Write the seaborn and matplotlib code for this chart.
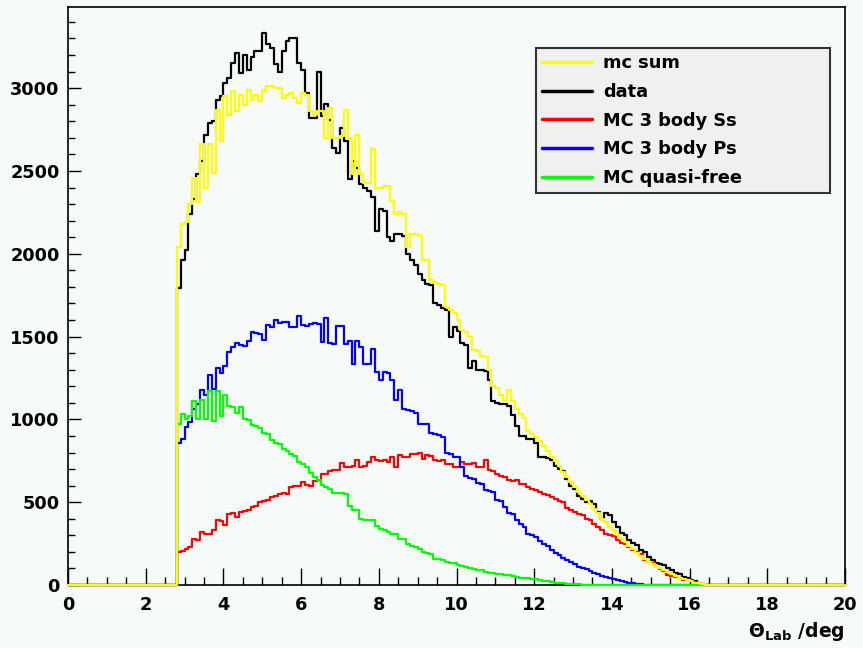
import numpy as np
import pandas as pd
import matplotlib
matplotlib.use('Agg')
import matplotlib.pyplot as plt
from matplotlib.lines import Line2D
from matplotlib.ticker import MultipleLocator
import seaborn as sns

# Theta_Lab histograms, 0.1 deg bins, first filled bin starts at 2.8 deg
bin_width = 0.1
first_bin = 2.8

mc_sum = [2040, 2180, 2190, 2300, 2460, 2310, 2660, 2400, 2660, 2490, 2870, 2680, 2950, 2840, 2980, 2860, 2960, 2900, 2990, 2930,
          2960, 2920, 2990, 3010, 3010, 3000, 3000, 2940, 2960, 2970, 2940, 2910, 2970, 2960, 2860, 2840, 2860, 2860, 2700, 2880,
          2700, 2700, 2710, 2870, 2700, 2480, 2720, 2480, 2430, 2430, 2630, 2400, 2400, 2410, 2410, 2320, 2240, 2250, 2240, 2040,
          2120, 2120, 2110, 1960, 1960, 1840, 1830, 1820, 1810, 1680, 1660, 1640, 1600, 1540, 1530, 1500, 1420, 1410, 1380, 1375,
          1300, 1200, 1190, 1150, 1120, 1175, 1110, 1060, 1030, 1010, 930, 910, 895, 870, 840, 810, 775, 750, 720, 680,
          650, 620, 590, 560, 540, 515, 490, 460, 435, 400, 380, 350, 330, 300, 280, 260, 235, 215, 195, 175,
          155, 140, 125, 110, 100, 90, 80, 65, 55, 45, 35, 30, 22, 15, 10, 5]

data = [1795, 1960, 2020, 2240, 2330, 2480, 2560, 2720, 2790, 2800, 2930, 2950, 3030, 3060, 3150, 3210, 3090, 3200, 3110, 3190,
        3225, 3225, 3330, 3265, 3240, 3145, 3100, 3225, 3285, 3300, 3300, 3150, 3110, 2970, 2820, 2820, 3100, 2830, 2905, 2810,
        2640, 2610, 2760, 2680, 2450, 2560, 2520, 2420, 2400, 2380, 2340, 2140, 2270, 2260, 2100, 2080, 2120, 2120, 2110, 2000,
        1960, 1930, 1880, 1840, 1820, 1810, 1700, 1690, 1670, 1660, 1500, 1556, 1536, 1460, 1450, 1313, 1350, 1300, 1300, 1290,
        1235, 1114, 1100, 1095, 1095, 1080, 1024, 960, 900, 898, 880, 880, 860, 775, 771, 765, 755, 720, 700, 690,
        640, 600, 580, 540, 520, 500, 510, 490, 440, 400, 432, 420, 380, 350, 311, 300, 271, 251, 240, 210,
        200, 170, 150, 130, 125, 120, 100, 90, 70, 65, 50, 45, 30, 25, 10, 5]

mc_ss = [200, 205, 220, 230, 280, 270, 320, 310, 310, 330, 390, 385, 362, 430, 435, 412, 440, 445, 452, 470,
         475, 500, 505, 512, 530, 535, 552, 555, 550, 592, 600, 598, 622, 602, 600, 630, 635, 672, 672, 690,
         692, 695, 735, 712, 710, 720, 752, 712, 720, 740, 773, 752, 750, 755, 742, 773, 712, 783, 773, 770,
         793, 790, 795, 763, 783, 780, 752, 750, 755, 732, 730, 712, 715, 742, 732, 730, 735, 712, 710, 752,
         692, 690, 672, 660, 655, 632, 630, 635, 612, 610, 592, 580, 575, 560, 552, 545, 530, 520, 505, 500,
         462, 455, 442, 430, 420, 400, 392, 370, 350, 335, 310, 300, 295, 270, 255, 245, 232, 210, 200, 190,
         150, 140, 135, 110, 95, 85, 60, 55, 50, 42, 30, 28, 25, 20, 10, 5]

mc_ps = [860, 880, 955, 985, 1060, 1095, 1180, 1150, 1270, 1185, 1310, 1280, 1325, 1405, 1435, 1460, 1450, 1445, 1475, 1525,
         1520, 1515, 1480, 1570, 1560, 1600, 1580, 1590, 1585, 1560, 1555, 1625, 1570, 1565, 1575, 1580, 1575, 1470, 1615, 1460,
         1455, 1565, 1565, 1455, 1476, 1335, 1476, 1440, 1335, 1335, 1425, 1285, 1235, 1285, 1280, 1235, 1120, 1175, 1060, 1055,
         1050, 1040, 975, 970, 970, 915, 910, 905, 894, 795, 790, 775, 770, 713, 660, 645, 640, 615, 610, 575,
         570, 560, 515, 505, 472, 435, 430, 395, 370, 350, 310, 300, 290, 265, 245, 235, 210, 195, 180, 165,
         150, 140, 125, 110, 100, 95, 85, 75, 65, 55, 50, 45, 35, 30, 25, 20, 15, 10, 8, 5]

mc_qf = [970, 1030, 1000, 1020, 1110, 1000, 1120, 1000, 1170, 990, 1170, 1020, 1150, 1080, 1075, 1040, 1075, 1000, 995, 965,
         960, 945, 920, 910, 875, 860, 850, 820, 810, 790, 780, 740, 730, 715, 675, 655, 635, 605, 590, 580,
         555, 555, 555, 550, 475, 455, 450, 400, 395, 390, 390, 355, 340, 335, 320, 310, 305, 280, 275, 250,
         235, 230, 215, 200, 195, 185, 160, 155, 150, 140, 135, 130, 120, 115, 110, 100, 95, 92, 88, 80,
         75, 72, 68, 64, 62, 58, 55, 48, 45, 42, 40, 38, 35, 28, 25, 22, 18, 15, 12, 10,
         8, 6, 5, 4, 3]

labels = ['mc sum', 'data', 'MC 3 body Ss', 'MC 3 body Ps', 'MC quasi-free']
colors = ['#ffff00', '#000000', '#ff0000', '#0000ff', '#00ff00']
bg = '#f6faf8'

edges = np.round(np.arange(0, 20 + bin_width / 2, bin_width), 2)
centers = edges[:-1] + bin_width / 2
start = int(round(first_bin / bin_width))


def full(vals):
    h = np.zeros(len(centers))
    h[start:start + len(vals)] = vals
    return h


sns.set_style('ticks')
plt.rcParams['font.family'] = ['DejaVu Sans']
plt.rcParams['font.weight'] = 'bold'
plt.rcParams['text.color'] = 'black'
plt.rcParams['xtick.color'] = 'black'
plt.rcParams['ytick.color'] = 'black'
plt.rcParams['xtick.labelcolor'] = 'black'
plt.rcParams['ytick.labelcolor'] = 'black'
plt.rcParams['axes.labelcolor'] = 'black'
plt.rcParams['mathtext.fontset'] = 'custom'
plt.rcParams['mathtext.rm'] = 'DejaVu Sans:bold'
plt.rcParams['mathtext.it'] = 'DejaVu Sans:bold'
plt.rcParams['mathtext.bf'] = 'DejaVu Sans:bold'

fig = plt.figure(figsize=(8.63, 6.48), dpi=100, facecolor=bg)
ax = fig.add_axes([68 / 863, 1 - 585 / 648, 777 / 863, 578 / 648])
ax.set_facecolor(bg)

# draw order: data first, mc sum on top
series = {'data': data, 'MC 3 body Ss': mc_ss, 'MC 3 body Ps': mc_ps,
          'MC quasi-free': mc_qf, 'mc sum': mc_sum}
for i, (name, vals) in enumerate(series.items()):
    c = colors[labels.index(name)]
    df = pd.DataFrame({'theta': centers, 'n': full(vals)})
    sns.histplot(data=df, x='theta', weights='n', bins=list(edges), element='step',
                 fill=False, color=c, linewidth=1.6, ax=ax, zorder=3 + i, clip_on=False)

ax.set_xlim(0, 20)
ax.set_ylim(0, 3490)
ax.xaxis.set_major_locator(MultipleLocator(2))
ax.xaxis.set_minor_locator(MultipleLocator(0.5))
ax.yaxis.set_major_locator(MultipleLocator(500))
ax.yaxis.set_minor_locator(MultipleLocator(100))
ax.tick_params(axis='x', which='major', direction='in', length=12, width=1, pad=8, labelsize=12.8)
ax.tick_params(axis='x', which='minor', direction='in', length=6, width=1)
ax.tick_params(axis='y', which='major', direction='in', length=9, width=1, pad=6, labelsize=12.8)
ax.tick_params(axis='y', which='minor', direction='in', length=5, width=1)
for s in ax.spines.values():
    s.set_linewidth(1.2)
    s.set_color('black')
    s.set_zorder(1)

ax.set_ylabel('')
ax.set_xlabel(r'$\Theta_{\rm Lab}$ /deg', fontsize=13.5, fontweight='bold', loc='right', labelpad=4)

handles = [Line2D([0], [0], color=c, lw=2.5) for c in colors]
leg = ax.legend(handles, labels, loc='upper left', bbox_to_anchor=(0.602, 0.675, 0.379, 0.254),
                mode='expand', frameon=True, fancybox=False, facecolor='#f0f0f0', edgecolor='#333333',
                framealpha=1, prop={'weight': 'bold', 'size': 12.8}, handlelength=2.8,
                handletextpad=0.65, labelspacing=0.6, borderpad=0.35, borderaxespad=0)
leg.get_frame().set_linewidth(1.5)
leg.set_zorder(20)

fig.savefig('out.png', dpi=100, facecolor=bg)
